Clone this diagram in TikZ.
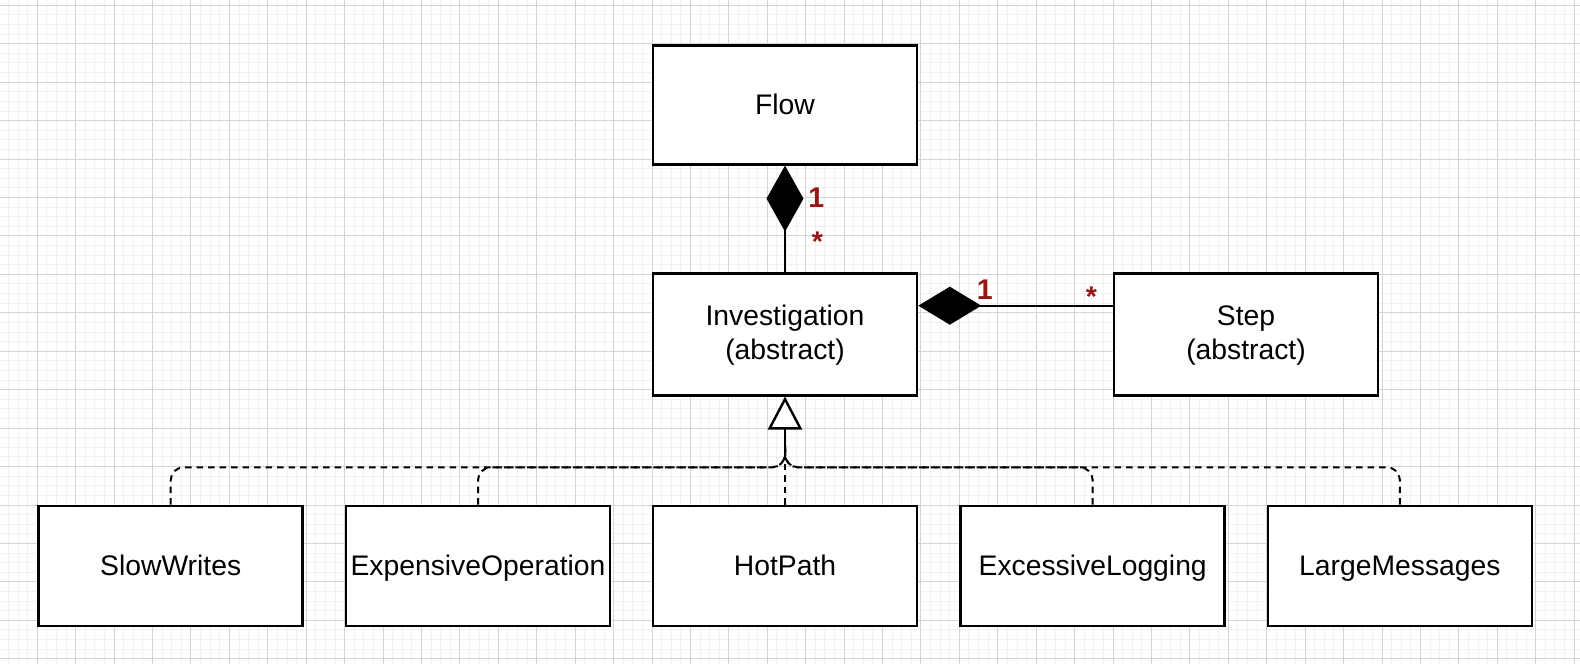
\documentclass[tikz,border=0pt]{standalone}
\usepackage{fontspec}
\setmainfont{Liberation Sans}
\usetikzlibrary{arrows.meta}
\definecolor{gridminor}{RGB}{241,241,241}
\definecolor{gridmajor}{RGB}{212,212,212}
\definecolor{lblred}{RGB}{150,22,22}
\begin{document}
\begin{tikzpicture}[x=1pt,y=-1pt,
  box/.style={draw=black, line width=2.6pt, fill=white, minimum width=264pt, minimum height=120pt, inner sep=0pt, align=center, font=\fontsize{28.3}{34}\selectfont, text height=24.5pt, text depth=6pt},
  conn/.style={line width=2.4pt},
  dashedge/.style={line width=2pt, dash pattern=on 6.5pt off 5pt, rounded corners=13pt},
  lbl/.style={text=lblred, font=\fontsize{28.5}{34}\selectfont\bfseries, inner sep=0pt, anchor=base}]
\useasboundingbox (0,0) rectangle (1580,664);
\fill[white] (0,0) rectangle (1580,664);
% grid
\foreach \k in {-4,...,161} \draw[gridminor, line width=1pt] ({37.3+\k*9.605},0) -- ++(0,664);
\foreach \k in {-1,...,68} \draw[gridminor, line width=1pt] (0,{5.3+\k*9.61}) -- ++(1580,0);
\foreach \k in {-1,...,41} \draw[gridmajor, line width=1pt] ({37.3+\k*38.42},0) -- ++(0,664);
\foreach \k in {0,...,17} \draw[gridmajor, line width=1pt] (0,{5.3+\k*38.44}) -- ++(1580,0);
% boxes
\node[box, minimum height=119pt] (flow) at (785,104.8) {Flow};
\node[box, minimum height=122pt, text height=57.5pt] (inv) at (785,334.2) {Investigation\\(abstract)};
\node[box, minimum height=122pt, text height=57.5pt] (step) at (1246,334.2) {Step\\(abstract)};
\node[box] (sw) at (170.7,566) {SlowWrites};
\node[box] (eo) at (478,566) {ExpensiveOperation};
\node[box] (hp) at (785,566) {HotPath};
\node[box] (el) at (1092.7,566) {ExcessiveLogging};
\node[box] (lm) at (1399.9,566) {LargeMessages};
% compositions
\draw[conn, -{Diamond[length=66pt,width=37pt]}] (inv.north) -- (flow.south);
\draw[conn, -{Diamond[length=63pt,width=38pt]}] ([yshift=28.5pt]step.west) -- ([yshift=28.5pt]inv.east);
% generalization
\coordinate (J) at (785,467.3);
\coordinate (Jt) at (785,445);
\coordinate (Js) at (785,458);
\foreach \c in {sw,eo,el,lm} \draw[dashedge] (\c.north) -- (\c.north |- J) -- (J) -- (Jt);
\draw[dashedge] (hp.north) -- (Jt);
\draw[conn, -{Triangle[fill=white,length=33pt,width=34pt]}] (Js) -- (inv.south);
% multiplicities
\node[lbl] (f1) at (816.3,207.3) {1};
\node[lbl] (fs) at (817.5,251.7) {*};
\node[lbl] (s1) at (984.8,299) {1};
\node[lbl] (ss) at (1091.3,306.5) {*};
\end{tikzpicture}
\end{document}
